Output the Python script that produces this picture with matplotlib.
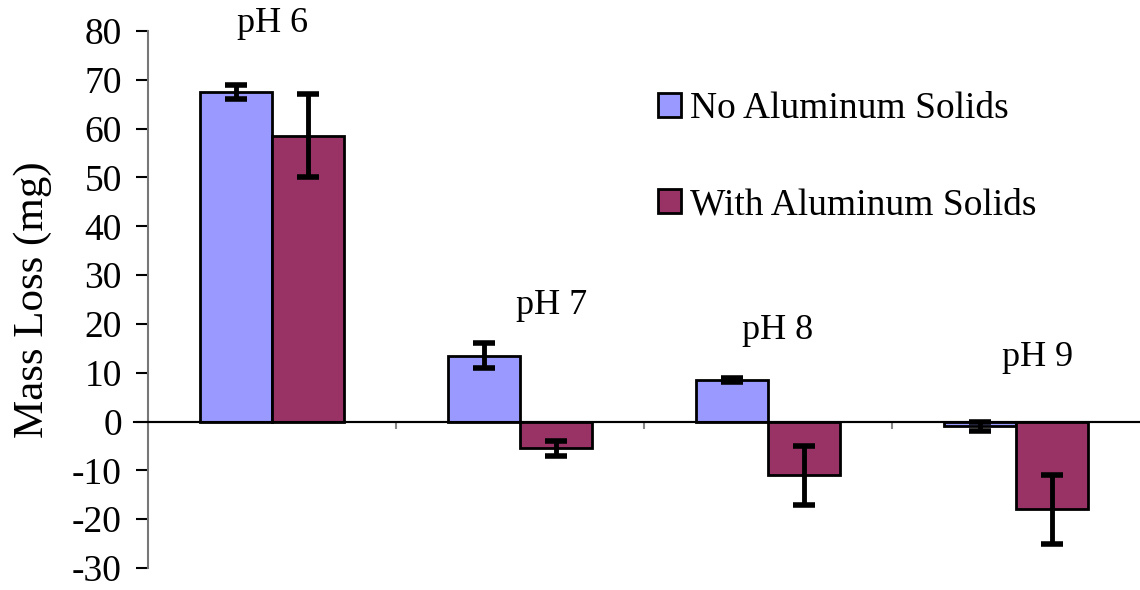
import matplotlib as mpl
mpl.use('Agg')
import matplotlib.pyplot as plt
import numpy as np

# values
groups = ['pH 6', 'pH 7', 'pH 8', 'pH 9']
no_al = [67.5, 13.5, 8.5, -1.0]
no_al_err = [1.5, 2.5, 0.5, 1.0]
with_al = [58.5, -5.5, -11.0, -18.0]
with_al_err = [8.5, 1.5, 6.0, 7.0]
series_names = ['No Aluminum Solids', 'With Aluminum Solids']
# where the pH labels sit (category units, mg)
label_x = [0.0, 1.125, 2.04, 3.085]
label_y = [81.5, 23.8, 18.6, 13.1]

plt.rcParams['font.family'] = ['Liberation Serif', 'DejaVu Serif']
plt.rcParams['axes.unicode_minus'] = False

fig = plt.figure(figsize=(11.4, 5.9), dpi=100)
ax = fig.add_axes([0.13, 0.0373, 0.87, 0.9102])

x = np.arange(len(groups))
w = 0.29
err_kw = dict(ecolor='black', elinewidth=3.5, capsize=8, capthick=4)
ax.bar(x - w / 2, no_al, w, yerr=no_al_err, color='#9999FF', edgecolor='black',
       linewidth=2, label=series_names[0], error_kw=err_kw, zorder=3)
ax.bar(x + w / 2, with_al, w, yerr=with_al_err, color='#993366', edgecolor='black',
       linewidth=2, label=series_names[1], error_kw=err_kw, zorder=3)

for name, lx, ly in zip(groups, label_x, label_y):
    ax.text(lx, ly, name, ha='center', va='center', fontsize=26, clip_on=False)

ax.set_xlim(-0.5, 3.5)
ax.set_ylim(-30, 80)
ax.set_yticks(np.arange(-30, 81, 10))
ax.tick_params(axis='y', labelsize=27, length=9, width=1.5, color='black', pad=10)
ax.set_ylabel('Mass Loss (mg)', fontsize=31, labelpad=14)

# category separators on the zero line
ax.spines['bottom'].set_position(('data', 0))
ax.spines['bottom'].set_color('black')
ax.spines['bottom'].set_linewidth(1.5)
ax.set_xticks([0.5, 1.5, 2.5])
ax.set_xticklabels([])
ax.tick_params(axis='x', length=5, width=1.5, color='#888888')
ax.axhline(0, xmin=-0.014, xmax=1, color='black', linewidth=1.5, clip_on=False, zorder=4)
ax.spines['left'].set_color('#777777')
ax.spines['left'].set_linewidth(1.5)
ax.spines['top'].set_visible(False)
ax.spines['right'].set_visible(False)

ax.legend(loc='upper left', bbox_to_anchor=(0.48, 0.95), frameon=False, fontsize=27,
          handlelength=0.6, handleheight=0.6, handletextpad=0.25, labelspacing=1.65)

fig.savefig('out.png', dpi=100)
